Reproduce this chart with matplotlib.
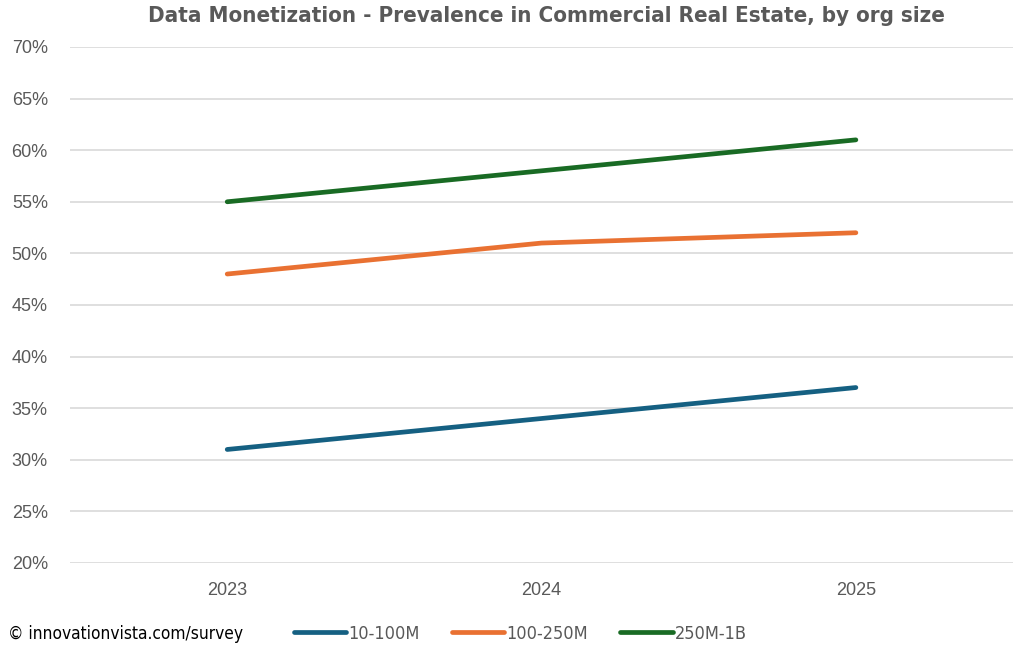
import numpy as np
from matplotlib import pyplot as plt

years = ['2023', '2024', '2025']
small = [0.31, 0.34, 0.37]
mid = [0.48, 0.51, 0.52]
large = [0.55, 0.58, 0.61]
series_names = ['10-100M', '100-250M', '250M-1B']
colors = ['#156082', '#E97132', '#196B24']

plt.rcParams['font.family'] = ['DejaVu Sans']

fig = plt.figure(figsize=(10.24, 6.48), dpi=100)
ax = fig.add_axes([0.0684, 0.1312, 0.9209, 0.7963])

x = np.arange(len(years))
for vals, name, c in zip([small, mid, large], series_names, colors):
	ax.plot(x, vals, color=c, lw=3.4, label=name, solid_capstyle='round')

ax.set_xlim(-0.5, 2.5)
ax.set_ylim(0.2, 0.7)
yt = np.arange(0.2, 0.701, 0.05)
ax.set_yticks(yt)
ax.set_yticklabels(['%d%%' % round(v * 100) for v in yt],
	family='Liberation Sans', fontsize=13, color='#595959')
ax.set_xticks(x)
ax.set_xticklabels(years, family='Liberation Sans', fontsize=13, color='#595959')
ax.grid(axis='y', color='#d9d9d9', lw=1.2)
ax.set_axisbelow(True)
for s in ax.spines.values():
	s.set_visible(False)
ax.tick_params(axis='y', length=0, pad=16)
ax.tick_params(axis='x', length=0, pad=14)

fig.text(0.534, 0.976, 'Data Monetization - Prevalence in Commercial Real Estate, by org size',
	ha='center', va='center', fontsize=16, fontweight='bold', color='#595959',
	fontstretch='condensed')
fig.text(0.008, 0.022, '\u00a9 innovationvista.com/survey', ha='left', va='center',
	fontsize=12.4, color='black', fontstretch='condensed')
leg = fig.legend(loc='center', bbox_to_anchor=(0.508, 0.022), ncol=3, frameon=False,
	prop={'size': 13, 'stretch': 'condensed'}, handlelength=2.9, handletextpad=0.1,
	columnspacing=1.8, labelcolor='#595959')

fig.savefig('out.png', dpi=100)
